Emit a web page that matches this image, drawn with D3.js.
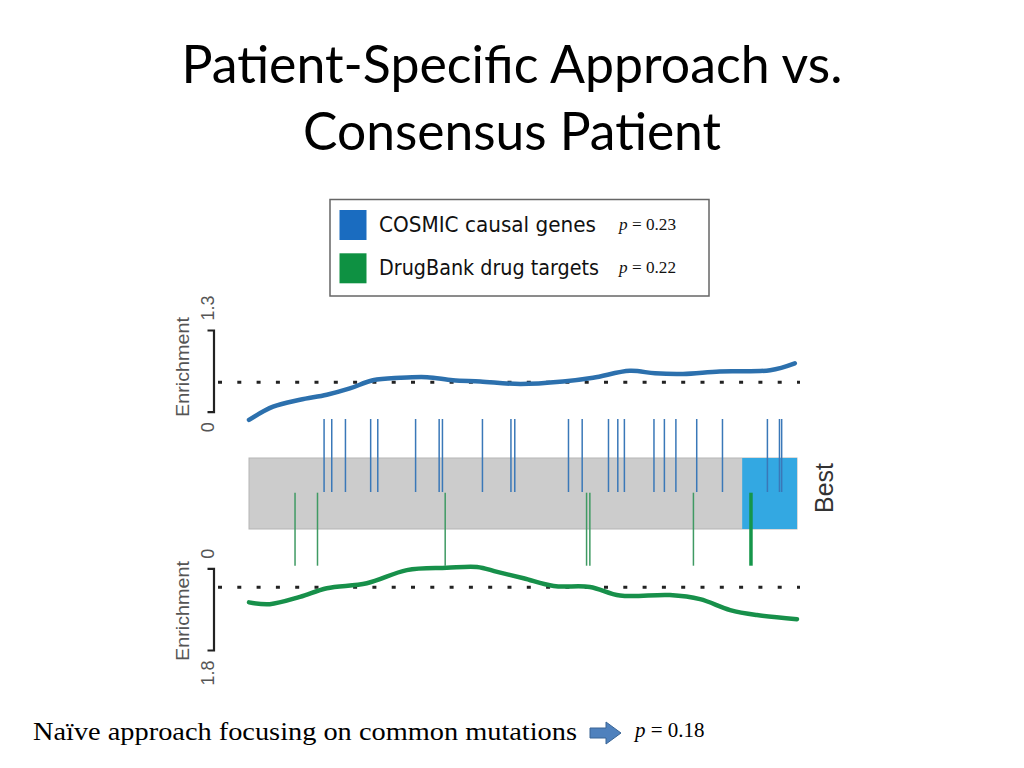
<!DOCTYPE html>
<html><head><meta charset="utf-8">
<script src="https://cdn.jsdelivr.net/npm/d3@7"></script>
<style>html,body{margin:0;padding:0;background:#fff;}svg{display:block;}</style>
</head><body>
<svg id="c" width="1024" height="768"></svg>
<script>
// ---------- DATA ----------
const titleLines = ["Patient-Specific Approach vs.", "Consensus Patient"];
const legendLabels = ["COSMIC causal genes", "DrugBank drug targets"];
const legendPValues = ["0.23", "0.22"];
const footerText = "Naïve approach focusing on common mutations";
const footerPValue = "0.18";
const bestLabel = "Best";
const axisLabel = "Enrichment";
const topTicks = [0, 1.3];
const bottomTicks = [0, 1.8];
const topReference = 0.47;     // dotted line, COSMIC
const bottomReference = 0.42;  // dotted line, DrugBank
const bestStart = 90;          // rank percentile where "Best" region starts
// rank percentile (0 = worst, 100 = best) of each hit
const cosmicHits = [13.7, 15.1, 17.6, 22.2, 23.5, 30.4, 34.7, 35.3, 42.6, 47.8, 48.5, 58.3, 60.8, 65.6, 67.3, 68.5, 73.9, 75.8, 77.9, 81.7, 86.4, 94.6, 96.8, 97.2];
const drugbankHits = [8.4, 12.5, 35.8, 61.6, 62.2, 81.1, 91.6];
// running enrichment curves: [rank, enrichment]
const cosmicRank = [0, 4.4, 9.3, 14.2, 18.4, 22.6, 27.6, 32.5, 37.2, 42.2, 49.5, 57.3, 62.8, 69.5, 74.1, 79.2, 85.9, 95.1, 99.6];
const cosmicEnrichment = [-0.13, 0.08, 0.19, 0.27, 0.37, 0.50, 0.54, 0.55, 0.50, 0.48, 0.44, 0.48, 0.54, 0.65, 0.61, 0.60, 0.64, 0.66, 0.77];
const drugbankRank = [0, 3.8, 9.3, 14.2, 21.5, 28.8, 36.1, 41.6, 45.3, 50.1, 55.6, 62.2, 67.7, 76.8, 82.3, 87.8, 92.7, 100];
const drugbankEnrichment = [0.75, 0.79, 0.63, 0.44, 0.33, 0.04, -0.01, -0.03, 0.08, 0.22, 0.39, 0.41, 0.60, 0.59, 0.68, 0.92, 1.03, 1.12];

// ---------- STYLE ----------
const C = {
  blueLine: "#2c70ad", greenLine: "#17904a",
  blueTick: "#3a78b8", greenTick: "#3f9a63", greenTickStrong: "#15964a",
  bar: "#cccccc", barStroke: "#b5b5b5", best: "#33a8e2",
  legendBlue: "#1a6cc0", legendGreen: "#0e9142",
  axis: "#222", label: "#555", dot: "#222"
};

const svg = d3.select("#c");

// Title
svg.selectAll("text.title").data(titleLines).join("text")
  .attr("class", "title")
  .attr("x", 512).attr("y", (d, i) => 83 + i * 67)
  .attr("text-anchor", "middle")
  .attr("font-family", "Lato, 'Open Sans', sans-serif")
  .attr("font-size", 52)
  .attr("textLength", (d, i) => i === 0 ? 661 : 418)
  .attr("lengthAdjust", "spacingAndGlyphs")
  .attr("fill", "#000")
  .text(d => d);

// Legend
const lg = svg.append("g");
lg.append("rect").attr("x", 330).attr("y", 199.5).attr("width", 379).attr("height", 96.5)
  .attr("fill", "#fff").attr("stroke", "#666").attr("stroke-width", 1.5);
const legendCols = [C.legendBlue, C.legendGreen];
legendLabels.forEach((lab, i) => {
  const yT = 210 + i * 43.3;
  lg.append("rect").attr("x", 339.5).attr("y", yT).attr("width", 27).attr("height", 30).attr("fill", legendCols[i]);
  lg.append("text").attr("x", 379).attr("y", yT + 22)
    .attr("font-family", "'DejaVu Sans', Verdana, sans-serif").attr("font-size", 21)
    .attr("textLength", i === 0 ? 217 : 220).attr("lengthAdjust", "spacingAndGlyphs")
    .attr("fill", "#111").text(lab);
  const pt = lg.append("text").attr("x", 619).attr("y", yT + 20)
    .attr("font-family", "'Liberation Serif', 'Times New Roman', serif").attr("font-size", 17)
    .attr("textLength", 57).attr("lengthAdjust", "spacingAndGlyphs").attr("fill", "#111");
  pt.append("tspan").attr("font-style", "italic").text("p");
  pt.append("tspan").text(" = " + legendPValues[i]);
});

// Scales
const x = d3.scaleLinear().domain([0, 100]).range([249, 797]);
const yTop = d3.scaleLinear().domain([0, 1.3]).range([411.7, 330]);
const yBot = d3.scaleLinear().domain([0, 1.8]).range([568.3, 650]);

// Axes (brackets)
function drawAxis(scale, ticks, centerY) {
  const upperY = Math.min(...scale.range());
  const g = svg.append("g").attr("transform", "translate(213.5,0)")
    .call(d3.axisLeft(scale).tickValues(ticks).tickSizeInner(0).tickSizeOuter(6).tickPadding(0).tickFormat(d3.format("")));
  g.select(".domain").attr("stroke", C.axis).attr("stroke-width", 2.2);
  g.selectAll(".tick line").remove();
  g.selectAll(".tick text").each(function (d) {
    const isUpper = Math.abs(scale(d) - upperY) < 0.01;
    d3.select(this)
      .attr("x", 0).attr("y", 0).attr("dy", null)
      .attr("transform", `translate(0,${isUpper ? -10 : 10}) rotate(-90)`)
      .attr("text-anchor", isUpper ? "start" : "end")
      .attr("font-family", "'Liberation Sans', Arial, sans-serif").attr("font-size", 18)
      .attr("fill", C.label);
  });
  svg.append("text")
    .attr("transform", `translate(188.5,${centerY}) rotate(-90)`)
    .attr("text-anchor", "middle")
    .attr("font-family", "'Liberation Sans', Arial, sans-serif").attr("font-size", 19)
    .attr("textLength", 100).attr("lengthAdjust", "spacingAndGlyphs")
    .attr("fill", C.label).text(axisLabel);
}
drawAxis(yTop, topTicks, 367);
drawAxis(yBot, bottomTicks, 611);

// Reference dotted lines
[[yTop, topReference], [yBot, bottomReference]].forEach(([s, v]) => {
  svg.append("line").attr("x1", 218).attr("x2", 800).attr("y1", s(v)).attr("y2", s(v))
    .attr("stroke", C.dot).attr("stroke-width", 3).attr("stroke-dasharray", "4,15.3");
});

// Rank bar
svg.append("rect").attr("x", x(0)).attr("y", 458).attr("width", x(100) - x(0)).attr("height", 71)
  .attr("fill", C.bar).attr("stroke", C.barStroke).attr("stroke-width", 1);
svg.append("rect").attr("x", x(bestStart)).attr("y", 458).attr("width", x(100) - x(bestStart)).attr("height", 71)
  .attr("fill", C.best);
svg.append("text").attr("transform", `translate(833,488) rotate(-90)`)
  .attr("text-anchor", "middle").attr("font-family", "'Liberation Sans', Arial, sans-serif")
  .attr("font-size", 25).attr("fill", "#333").text(bestLabel);

// Hit ticks
svg.selectAll("line.cos").data(cosmicHits).join("line").attr("class", "cos")
  .attr("x1", d => x(d)).attr("x2", d => x(d)).attr("y1", 419).attr("y2", 492)
  .attr("stroke", C.blueTick).attr("stroke-width", 1.5);
svg.selectAll("line.drg").data(drugbankHits).join("line").attr("class", "drg")
  .attr("x1", d => x(d)).attr("x2", d => x(d)).attr("y1", 492.7).attr("y2", 565.7)
  .attr("stroke", (d, i) => i === drugbankHits.length - 1 ? C.greenTickStrong : C.greenTick)
  .attr("stroke-width", (d, i) => i === drugbankHits.length - 1 ? 3.5 : 1.5);

// Curves
const topLine = d3.line().x(d => x(d[0])).y(d => yTop(d[1])).curve(d3.curveCatmullRom);
const botLine = d3.line().x(d => x(d[0])).y(d => yBot(d[1])).curve(d3.curveCatmullRom);
svg.append("path").datum(d3.zip(cosmicRank, cosmicEnrichment)).attr("d", topLine)
  .attr("fill", "none").attr("stroke", C.blueLine).attr("stroke-width", 4.5).attr("stroke-linecap", "round");
svg.append("path").datum(d3.zip(drugbankRank, drugbankEnrichment)).attr("d", botLine)
  .attr("fill", "none").attr("stroke", C.greenLine).attr("stroke-width", 4.5).attr("stroke-linecap", "round");

// Footer
svg.append("text").attr("x", 33).attr("y", 740)
  .attr("font-family", "'Liberation Serif', 'Times New Roman', serif").attr("font-size", 26)
  .attr("textLength", 544).attr("lengthAdjust", "spacingAndGlyphs")
  .attr("fill", "#000").text(footerText);
svg.append("path")
  .attr("d", "M590,728 H606 V722 L621,733 L606,744 V738 H590 Z")
  .attr("fill", "#4f81bd").attr("stroke", "#3a6595").attr("stroke-width", 1);
const fp = svg.append("text").attr("x", 635).attr("y", 737)
  .attr("font-family", "'Liberation Serif', 'Times New Roman', serif").attr("font-size", 21).attr("fill", "#000");
fp.append("tspan").attr("font-style", "italic").text("p");
fp.append("tspan").text(" = " + footerPValue);
</script>
</body></html>
